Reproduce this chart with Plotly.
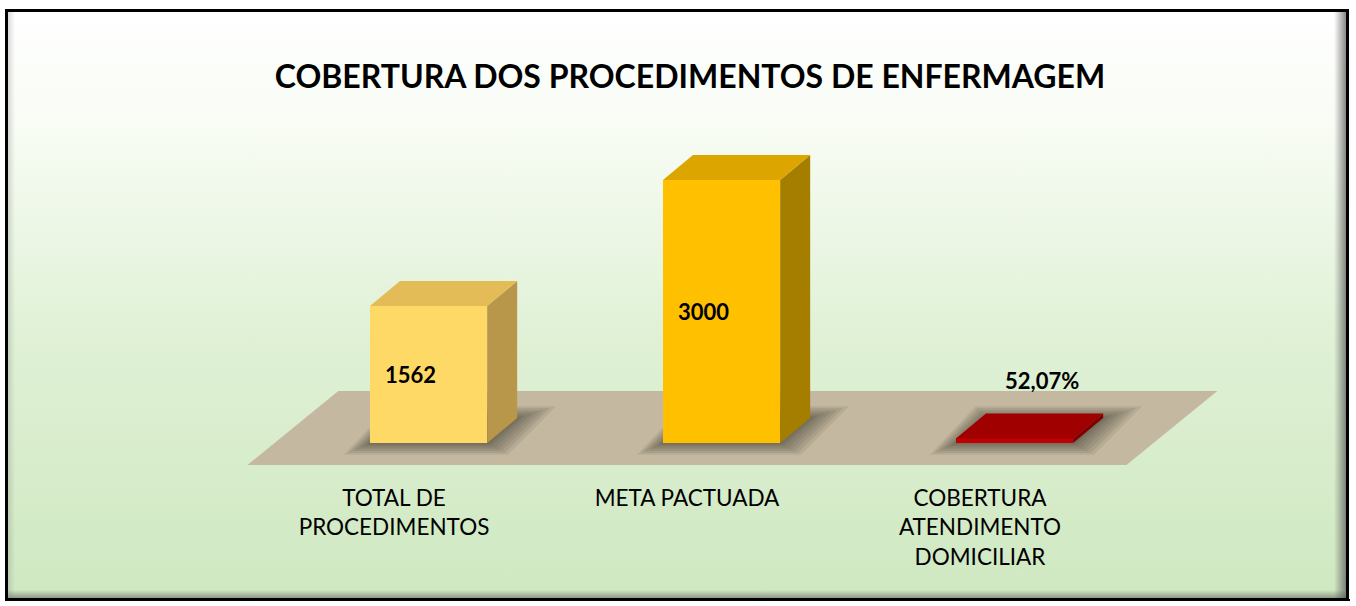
import base64
import plotly.graph_objects as go

# ---- data ----
categories = ["TOTAL DE<br>PROCEDIMENTOS", "META PACTUADA", "COBERTURA<br>ATENDIMENTO<br>DOMICILIAR"]
values = [1562, 3000, 52.07]
value_labels = ["1562", "3000", "52,07%"]
title_text = "COBERTURA DOS PROCEDIMENTOS DE ENFERMAGEM"

# ---- styles ----
front_colors = ["#FFD966", "#FFC000", "#C00000"]
top_colors = ["#E3BC58", "#DCA500", "#A00000"]
side_colors = ["#B8964A", "#A57E00", "#7E0000"]
FLOOR_COLOR = "#C4B8A0"

W, H = 1356, 606
PLOT_BOTTOM = 465          # px: bottom of plot area (front edge of floor)
X0_PX, X_UNIT = 394, 293   # px of category 0, px per category
ZERO_PX, Y_SCALE = 443, 263 / 3000  # px of value 0, px per value unit


def px_to_x(px):
    return (px - X0_PX) / X_UNIT


def px_to_y(py):
    return (ZERO_PX - py) / Y_SCALE


x_range = [px_to_x(0), px_to_x(W)]
y_range = [px_to_y(PLOT_BOTTOM), px_to_y(0)]

BAR_OFF, BAR_W = -0.082, 0.40
DX = 30 / X_UNIT
DY = 25 / Y_SCALE

xs = list(range(len(categories)))

fig = go.Figure()
fig.add_trace(go.Bar(
    x=xs, y=values, width=BAR_W, offset=BAR_OFF,
    marker=dict(color=front_colors, line=dict(width=0)),
    hoverinfo="skip", showlegend=False,
))

shapes = []
# floor
fy0 = y_range[0]
fy1 = px_to_y(391)
fdx = 0.31
shapes.append(dict(
    type="path", xref="x", yref="y", layer="below",
    path=f"M {-0.5},{fy0} L {2.5},{fy0} L {2.5 + fdx},{fy1} L {-0.5 + fdx},{fy1} Z",
    fillcolor=FLOOR_COLOR, line=dict(width=0),
))
# soft shadows on floor (stacked translucent layers)
for e in [26, 22, 18, 14, 10, 6, 3]:
    ex = e / X_UNIT
    ey = (e * 0.45) / Y_SCALE
    for k in xs:
        x0 = k + BAR_OFF
        x1 = x0 + BAR_W
        shapes.append(dict(
            type="path", xref="x", yref="y", layer="below",
            path=(f"M {x0 - ex},{-ey} L {x1 + ex * 0.8},{-ey} "
                  f"L {x1 + DX + ex * 1.5},{DY + ey} L {x0 + DX - ex * 0.4},{DY + ey} Z"),
            fillcolor="rgba(30,25,15,0.08)", line=dict(width=0),
        ))
# side and top faces
for k, v in zip(xs, values):
    x0 = k + BAR_OFF
    x1 = x0 + BAR_W
    shapes.append(dict(
        type="path", xref="x", yref="y", layer="above",
        path=f"M {x1},0 L {x1},{v} L {x1 + DX},{v + DY} L {x1 + DX},{DY} Z",
        fillcolor=side_colors[k], line=dict(width=0),
    ))
    shapes.append(dict(
        type="path", xref="x", yref="y", layer="above",
        path=f"M {x0},{v} L {x1},{v} L {x1 + DX},{v + DY} L {x0 + DX},{v + DY} Z",
        fillcolor=top_colors[k], line=dict(width=0),
    ))

# value labels
annotations = []
for k, (v, lab) in enumerate(zip(values, value_labels)):
    if v > 500:
        ax, ay = k + 0.055, v / 2
    else:
        ax, ay = k + 0.21, v + 58 / Y_SCALE
    annotations.append(dict(
        x=ax, y=ay, xref="x", yref="y", text=f"<b>{lab}</b>", showarrow=False,
        font=dict(family="Lato", size=22, color="#000000"),
        xanchor="center", yanchor="middle",
    ))

# background (frame + gradient)
svg = f'''<svg xmlns="http://www.w3.org/2000/svg" width="{W}" height="{H}" viewBox="0 0 {W} {H}">
<defs>
<linearGradient id="g" x1="0" y1="0" x2="0" y2="1">
<stop offset="0" stop-color="#ffffff"/>
<stop offset="0.2" stop-color="#f8fcf4"/>
<stop offset="0.55" stop-color="#e0f1d6"/>
<stop offset="1" stop-color="#cfe8c1"/>
</linearGradient>
<linearGradient id="r" x1="0" y1="0" x2="1" y2="0">
<stop offset="0" stop-color="#555555" stop-opacity="0"/>
<stop offset="1" stop-color="#555555" stop-opacity="0.75"/>
</linearGradient>
<linearGradient id="b" x1="0" y1="0" x2="0" y2="1">
<stop offset="0" stop-color="#555555" stop-opacity="0"/>
<stop offset="1" stop-color="#555555" stop-opacity="0.6"/>
</linearGradient>
<linearGradient id="l" x1="0" y1="0" x2="1" y2="0">
<stop offset="0" stop-color="#888888" stop-opacity="0.35"/>
<stop offset="1" stop-color="#888888" stop-opacity="0"/>
</linearGradient>
</defs>
<rect x="0" y="0" width="{W}" height="{H}" fill="#ffffff"/>
<rect x="7" y="11" width="1340" height="588" fill="url(#g)"/>
<rect x="1334" y="11" width="13" height="588" fill="url(#r)"/>
<rect x="7" y="590" width="1340" height="9" fill="url(#b)"/>
<rect x="7" y="11" width="8" height="588" fill="url(#l)"/>
<rect x="6.5" y="10.5" width="1341" height="589" fill="none" stroke="#000000" stroke-width="3"/>
<line x1="1348" y1="10" x2="1348" y2="601" stroke="#000000" stroke-width="2"/>
<line x1="5" y1="600" x2="1350" y2="600" stroke="#000000" stroke-width="2"/>
</svg>'''
src = "data:image/svg+xml;base64," + base64.b64encode(svg.encode("utf-8")).decode("ascii")

fig.update_layout(
    width=W, height=H,
    margin=dict(l=0, r=0, t=0, b=H - PLOT_BOTTOM, pad=0),
    paper_bgcolor="#ffffff", plot_bgcolor="rgba(0,0,0,0)",
    images=[dict(source=src, xref="paper", yref="paper", x=0, y=1,
                 sizex=1, sizey=H / PLOT_BOTTOM, xanchor="left", yanchor="top",
                 sizing="stretch", layer="below")],
    title=dict(text=f"<b>{title_text}</b>", x=690 / W, xanchor="center",
               y=1 - 77 / H, yanchor="middle", yref="container",
               font=dict(family="Lato", size=32, color="#000000")),
    shapes=shapes, annotations=annotations,
    xaxis=dict(range=x_range, tickmode="array", tickvals=xs, ticktext=categories,
               showgrid=False, zeroline=False, showline=False, automargin=False,
               ticks="outside", ticklen=13, tickcolor="rgba(0,0,0,0)",
               tickfont=dict(family="Lato", size=22.5, color="#000000"), fixedrange=True),
    yaxis=dict(range=y_range, visible=False, showgrid=False, zeroline=False,
               automargin=False, fixedrange=True),
    bargap=0, showlegend=False,
)

fig.write_html(
    "out.html",
    config={"displayModeBar": False},
    post_script="document.body.style.margin='0';document.body.style.overflow='hidden';",
)
